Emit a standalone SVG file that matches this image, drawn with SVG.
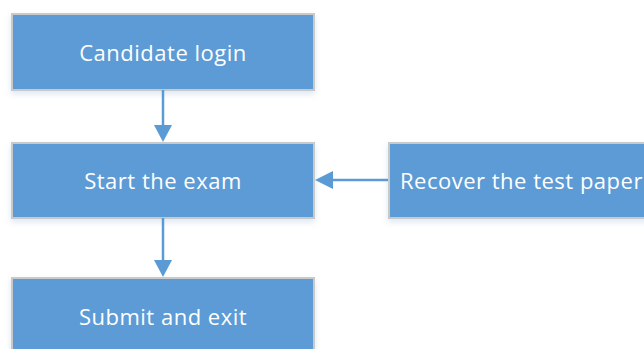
<svg xmlns="http://www.w3.org/2000/svg" width="644" height="349" viewBox="0 0 644 349">
<style>
.box{fill:#5b9bd5;stroke:#c9c9c9;stroke-width:2}
.lbl{fill:#ffffff;font-family:"Open Sans","Liberation Sans",sans-serif;font-size:22px;letter-spacing:0.5px}
.conn{stroke:#5b9bd5;stroke-width:2.5;fill:none}
.head{fill:#5b9bd5}
</style>
<defs>
<filter id="sh" x="-10%" y="-10%" width="120%" height="140%">
<feDropShadow dx="0" dy="3" stdDeviation="3" flood-color="#9bb7d4" flood-opacity="0.35"/>
</filter>
</defs>
<g id="n1"><rect class="box" x="12" y="14" width="302" height="76" filter="url(#sh)"/><text class="lbl" x="163" y="61" text-anchor="middle">Candidate login</text></g>
<g id="n2"><rect class="box" x="12" y="143" width="302" height="75" filter="url(#sh)"/><text class="lbl" x="163" y="189" text-anchor="middle">Start the exam</text></g>
<g id="n3"><rect class="box" x="12" y="278" width="302" height="76" filter="url(#sh)"/><text class="lbl" x="163" y="325" text-anchor="middle">Submit and exit</text></g>
<g id="n4"><rect class="box" x="389" y="143" width="302" height="75" filter="url(#sh)"/><text class="lbl" x="400" y="189">Recover the test paper</text></g>
<g id="connectors">
<line class="conn" x1="163" y1="90" x2="163" y2="128"/>
<polygon class="head" points="154,125 172,125 163,142"/>
<line class="conn" x1="163" y1="218" x2="163" y2="263"/>
<polygon class="head" points="154,260 172,260 163,277"/>
<line class="conn" x1="388" y1="180" x2="330" y2="180"/>
<polygon class="head" points="333,171 333,189 315,180"/>
</g>
</svg>
